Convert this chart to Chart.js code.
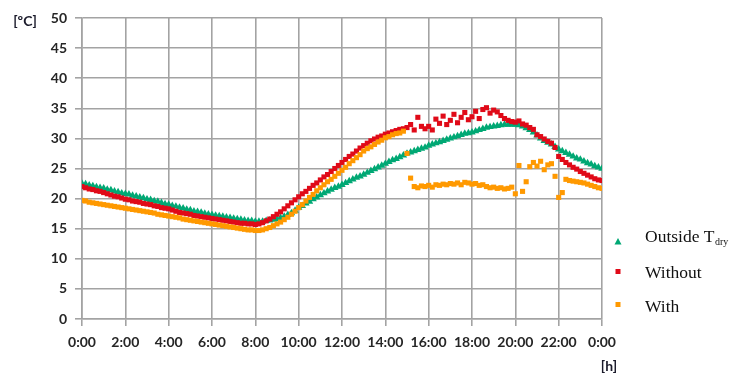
<!DOCTYPE html>
<html>
<head>
<meta charset="utf-8">
<script src="https://cdn.jsdelivr.net/npm/chart.js@4.4.1/dist/chart.umd.min.js"></script>
<style>
html,body{margin:0;padding:0;background:#fff;}
#wrap{position:relative;width:731px;height:376px;}
</style>
</head>
<body>
<div id="wrap"><canvas id="c" width="731" height="376"></canvas></div>
<script>
// Readings every 10 minutes, 0:00 .. 24:00 (145 values per series)
const seriesNames = ['Outside T', 'Without', 'With'];
const yTicks = [0, 5, 10, 15, 20, 25, 30, 35, 40, 45, 50];
const xTickHours = [0, 2, 4, 6, 8, 10, 12, 14, 16, 18, 20, 22, 24];

const outsideTdry = [
  22.5,22.4,22.2,22.1,21.9,21.8,
  21.7,21.5,21.4,21.2,21.1,20.9,
  20.8,20.7,20.5,20.4,20.2,20.1,
  19.9,19.8,19.6,19.5,19.3,19.1,
  19.0,18.8,18.7,18.5,18.4,18.2,
  18.1,17.9,17.8,17.7,17.5,17.4,
  17.3,17.2,17.1,17.0,16.9,16.8,
  16.7,16.6,16.5,16.4,16.3,16.3,
  16.2,16.2,16.2,16.3,16.4,16.5,
  16.6,16.8,17.0,17.3,17.6,18.0,
  18.5,18.8,19.2,19.5,19.9,20.2,
  20.6,20.9,21.2,21.5,21.8,22.0,
  22.3,22.6,22.9,23.2,23.5,23.7,
  24.0,24.3,24.6,24.9,25.2,25.5,
  25.8,26.1,26.4,26.6,26.9,27.2,
  27.5,27.7,27.9,28.1,28.3,28.5,
  28.8,29.0,29.2,29.4,29.6,29.8,
  30.0,30.2,30.4,30.6,30.8,30.9,
  31.0,31.2,31.4,31.6,31.8,31.9,
  32.0,32.1,32.2,32.3,32.3,32.3,
  32.3,32.2,32.0,31.7,31.4,31.0,
  30.5,30.0,29.6,29.3,29.0,28.6,
  28.2,27.9,27.6,27.3,27.0,26.7,
  26.5,26.2,25.9,25.7,25.4,25.2,
  25.0
];

const without = [
  22.0,21.8,21.6,21.5,21.3,21.2,
  21.0,20.8,20.6,20.4,20.3,20.1,
  19.9,19.8,19.6,19.5,19.4,19.2,
  19.1,19.0,18.8,18.7,18.5,18.4,
  18.3,18.1,17.9,17.7,17.6,17.5,
  17.4,17.2,17.1,17.0,16.9,16.8,
  16.7,16.6,16.5,16.4,16.3,16.2,
  16.1,16.0,15.9,15.9,15.8,15.8,
  15.7,15.8,16.0,16.3,16.6,17.0,
  17.4,17.8,18.3,18.8,19.3,19.8,
  20.3,20.8,21.2,21.7,22.2,22.6,
  23.1,23.6,24.0,24.5,25.0,25.5,
  26.0,26.5,27.0,27.4,27.9,28.4,
  28.8,29.2,29.6,29.9,30.2,30.4,
  30.7,30.9,31.1,31.3,31.5,31.6,
  31.8,32.3,31.4,33.5,32.0,31.6,
  32.0,31.4,33.2,32.5,33.7,32.3,
  33.0,34.0,32.6,33.5,34.3,33.1,
  33.6,34.5,33.3,34.8,35.1,34.2,
  34.7,34.4,33.8,33.3,33.0,32.8,
  32.7,32.9,32.4,32.2,31.8,31.5,
  30.6,30.3,29.9,29.5,29.2,28.5,
  27.0,26.5,26.0,25.6,25.2,24.9,
  24.5,24.2,23.9,23.6,23.3,23.1,
  23.0
];

const withValues = [
  19.7,19.6,19.4,19.3,19.2,19.1,
  19.0,18.9,18.8,18.7,18.6,18.5,
  18.4,18.3,18.2,18.1,18.0,17.9,
  17.8,17.7,17.6,17.4,17.3,17.2,
  17.1,17.0,16.9,16.8,16.6,16.5,
  16.4,16.3,16.2,16.1,16.0,15.9,
  15.8,15.7,15.6,15.5,15.4,15.3,
  15.2,15.1,15.0,14.9,14.8,14.8,
  14.7,14.7,14.8,15.0,15.2,15.5,
  15.8,16.1,16.5,16.9,17.4,17.9,
  18.5,19.0,19.6,20.2,20.7,21.3,
  21.8,22.3,22.8,23.2,23.7,24.2,
  24.7,25.2,25.8,26.3,26.8,27.3,
  27.9,28.3,28.6,29.0,29.4,29.7,
  30.1,30.3,30.6,30.8,30.9,31.2,
  27.5,23.4,22.0,21.8,22.1,22.0,
  22.2,21.9,22.3,22.2,22.4,22.3,
  22.5,22.4,22.6,22.3,22.7,22.6,
  22.4,22.5,22.2,22.3,22.0,21.8,
  21.9,21.7,21.8,21.6,21.7,21.9,
  20.8,25.5,21.2,22.8,25.3,26.0,
  25.4,26.2,24.8,25.6,25.8,23.7,
  20.2,21.0,23.2,23.0,22.9,22.8,
  22.7,22.6,22.4,22.2,22.0,21.8,
  21.7
];

const COLORS = { green: '#00a874', red: '#e00a18', orange: '#ff9900' };
const GRID = '#a3a3a3';
const TICKFONT = { family: 'Lato', size: 14, weight: 'bold' };
const TICKCOLOR = '#262626';

function toPoints(arr) {
  return arr.map((v, i) => ({ x: i / 6, y: v }));
}

const legendPlugin = {
  id: 'customLegend',
  afterDraw(chart) {
    const ctx = chart.ctx;
    ctx.save();
    // axis unit labels
    ctx.fillStyle = '#1a1a2a';
    ctx.font = 'bold 14px Lato';
    ctx.textAlign = 'center';
    ctx.textBaseline = 'middle';
    ctx.fillText('[ºC]', 25, 21);
    ctx.fillText('[h]', 609, 366);

    // markers
    ctx.fillStyle = COLORS.green;
    ctx.beginPath();
    ctx.moveTo(618, 238);
    ctx.lineTo(621.5, 244.5);
    ctx.lineTo(614.5, 244.5);
    ctx.closePath();
    ctx.fill();
    ctx.fillStyle = COLORS.red;
    ctx.fillRect(615.5, 269, 5, 5);
    ctx.fillStyle = COLORS.orange;
    ctx.fillRect(615.5, 302, 5, 5);

    // texts
    ctx.fillStyle = '#111';
    ctx.textAlign = 'left';
    ctx.textBaseline = 'alphabetic';
    ctx.font = '17.5px "Liberation Serif"';
    ctx.fillText(seriesNames[0], 645, 242);
    const w = ctx.measureText(seriesNames[0]).width;
    ctx.font = '10px "Liberation Serif"';
    ctx.fillText('dry', 645 + w + 0.5, 245);
    ctx.font = '17.5px "Liberation Serif"';
    ctx.fillText(seriesNames[1], 645, 277.5);
    ctx.fillText(seriesNames[2], 645, 312);
    ctx.restore();
  }
};

new Chart(document.getElementById('c'), {
  type: 'scatter',
  data: {
    datasets: [
      { label: seriesNames[2], data: toPoints(withValues), order: 0,
        pointStyle: 'rect', pointRadius: 3.6, pointHoverRadius: 3.6,
        backgroundColor: COLORS.orange, borderWidth: 0 },
      { label: seriesNames[1], data: toPoints(without), order: 1,
        pointStyle: 'rect', pointRadius: 3.6, pointHoverRadius: 3.6,
        backgroundColor: COLORS.red, borderWidth: 0 },
      { label: seriesNames[0] + 'dry', data: toPoints(outsideTdry), order: 2,
        pointStyle: 'triangle', pointRadius: 4.3, pointHoverRadius: 4.3,
        backgroundColor: COLORS.green, borderWidth: 0 }
    ]
  },
  options: {
    responsive: false,
    animation: false,
    events: [],
    layout: { padding: { left: 0, top: 18, right: 129, bottom: 0 } },
    plugins: { legend: { display: false }, tooltip: { enabled: false } },
    scales: {
      x: {
        type: 'linear', min: 0, max: 24,
        afterBuildTicks(scale) { scale.ticks = xTickHours.map(v => ({ value: v })); },
        afterFit(scale) { scale.height = 57; },
        ticks: {
          font: TICKFONT, color: TICKCOLOR, padding: 8, maxRotation: 0,
          autoSkip: false,
          callback: v => (v === 24 ? 0 : v) + ':00'
        },
        grid: { color: GRID, lineWidth: 1.6, tickLength: 7, tickColor: GRID, tickWidth: 1.6 },
        border: { color: GRID, width: 1.6 }
      },
      y: {
        type: 'linear', min: 0, max: 50,
        afterBuildTicks(scale) { scale.ticks = yTicks.map(v => ({ value: v })); },
        afterFit(scale) { scale.width = 82; },
        ticks: { font: TICKFONT, color: TICKCOLOR, padding: 8 },
        grid: { color: GRID, lineWidth: 1.6, tickLength: 7, tickColor: GRID, tickWidth: 1.6 },
        border: { color: GRID, width: 1.6 }
      }
    }
  },
  plugins: [legendPlugin]
});
</script>
</body>
</html>
